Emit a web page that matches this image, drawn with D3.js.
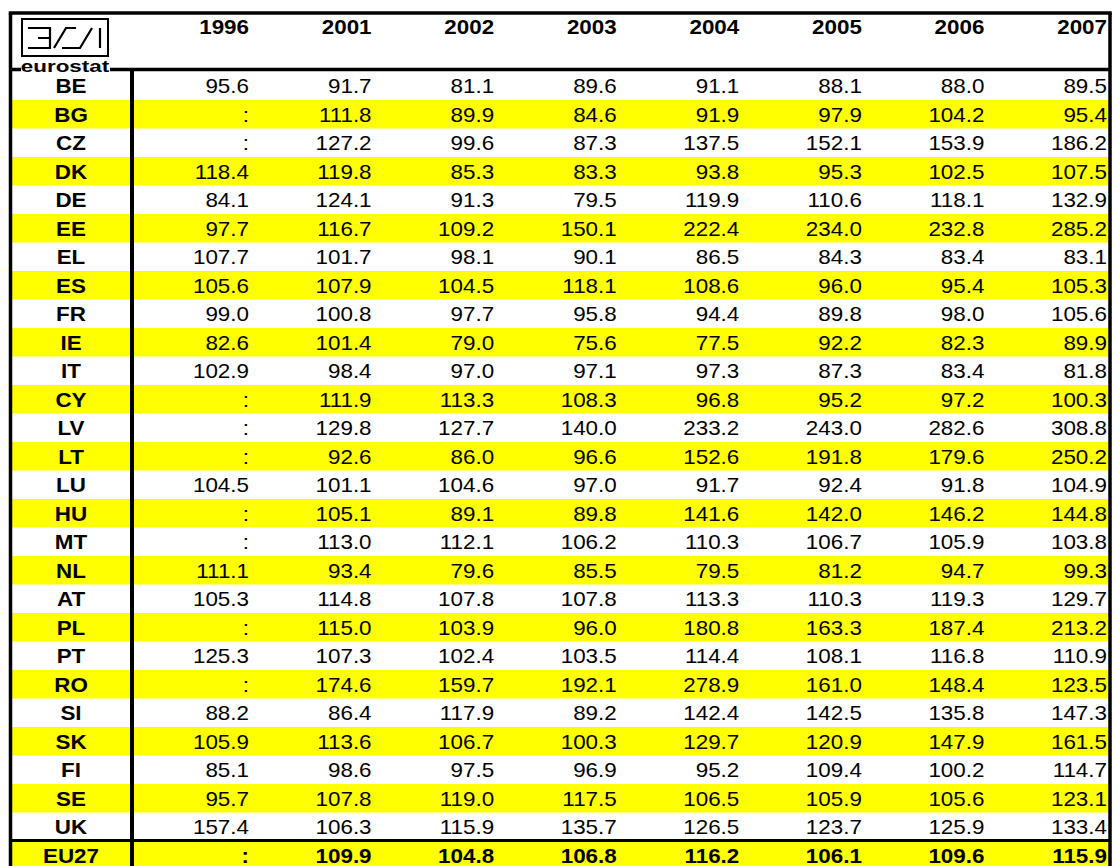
<!DOCTYPE html>
<html>
<head>
<meta charset="utf-8">
<script src="https://cdn.jsdelivr.net/npm/d3@7"></script>
<style>
  html, body { margin: 0; padding: 0; background: #fff; }
  svg { display: block; }
  text { font-family: "Liberation Sans", Arial, sans-serif; }
</style>
</head>
<body>
<svg id="chart" width="1115" height="866"></svg>
<script>
// ---- data ----
const years = ["1996", "2001", "2002", "2003", "2004", "2005", "2006", "2007"];
const countries = ["BE","BG","CZ","DK","DE","EE","EL","ES","FR","IE","IT","CY","LV","LT","LU","HU","MT","NL","AT","PL","PT","RO","SI","SK","FI","SE","UK","EU27"];
const v1996 = [95.6,null,null,118.4,84.1,97.7,107.7,105.6,99.0,82.6,102.9,null,null,null,104.5,null,null,111.1,105.3,null,125.3,null,88.2,105.9,85.1,95.7,157.4,null];
const v2001 = [91.7,111.8,127.2,119.8,124.1,116.7,101.7,107.9,100.8,101.4,98.4,111.9,129.8,92.6,101.1,105.1,113.0,93.4,114.8,115.0,107.3,174.6,86.4,113.6,98.6,107.8,106.3,109.9];
const v2002 = [81.1,89.9,99.6,85.3,91.3,109.2,98.1,104.5,97.7,79.0,97.0,113.3,127.7,86.0,104.6,89.1,112.1,79.6,107.8,103.9,102.4,159.7,117.9,106.7,97.5,119.0,115.9,104.8];
const v2003 = [89.6,84.6,87.3,83.3,79.5,150.1,90.1,118.1,95.8,75.6,97.1,108.3,140.0,96.6,97.0,89.8,106.2,85.5,107.8,96.0,103.5,192.1,89.2,100.3,96.9,117.5,135.7,106.8];
const v2004 = [91.1,91.9,137.5,93.8,119.9,222.4,86.5,108.6,94.4,77.5,97.3,96.8,233.2,152.6,91.7,141.6,110.3,79.5,113.3,180.8,114.4,278.9,142.4,129.7,95.2,106.5,126.5,116.2];
const v2005 = [88.1,97.9,152.1,95.3,110.6,234.0,84.3,96.0,89.8,92.2,87.3,95.2,243.0,191.8,92.4,142.0,106.7,81.2,110.3,163.3,108.1,161.0,142.5,120.9,109.4,105.9,123.7,106.1];
const v2006 = [88.0,104.2,153.9,102.5,118.1,232.8,83.4,95.4,98.0,82.3,83.4,97.2,282.6,179.6,91.8,146.2,105.9,94.7,119.3,187.4,116.8,148.4,135.8,147.9,100.2,105.6,125.9,109.6];
const v2007 = [89.5,95.4,186.2,107.5,132.9,285.2,83.1,105.3,105.6,89.9,81.8,100.3,308.8,250.2,104.9,144.8,103.8,99.3,129.7,213.2,110.9,123.5,147.3,161.5,114.7,123.1,133.4,115.9];
const series = [v1996, v2001, v2002, v2003, v2004, v2005, v2006, v2007];

// ---- layout ----
(function () {
const svg = d3.select("#chart");
const leftX = 10.5, rightX = 1110, topY = 13, headLine = 69.5, sepX = 132;
const rowTop = 71.5, rowH = 28.5;
const STRETCH = 1.12;

const x = d3.scalePoint().domain(years).range([249, 1107]);
const y = d3.scaleBand().domain(countries).range([rowTop, rowTop + rowH * countries.length]).padding(0);

// yellow stripes
svg.append("g").selectAll("rect")
  .data(countries.filter((c, i) => i % 2 === 1))
  .join("rect")
  .attr("x", leftX).attr("width", rightX - leftX)
  .attr("y", d => y(d)).attr("height", y.bandwidth())
  .attr("fill", "#ffff00");

function stretchedText(g, tx, ty, str, opts) {
  return g.append("text")
    .attr("transform", `translate(${tx},${ty}) scale(${opts.sx || STRETCH},1)`)
    .attr("text-anchor", opts.anchor || "end")
    .attr("font-size", opts.size || 20)
    .attr("font-weight", opts.bold ? "bold" : "normal")
    .attr("fill", "#000")
    .text(str);
}

// header years
const head = svg.append("g");
years.forEach(yr => stretchedText(head, x(yr), 34, yr, {bold: true}));

// country labels
const lab = svg.append("g");
countries.forEach(c => stretchedText(lab, 71, y(c) + 21.5, c, {bold: true, anchor: "middle"}));

// values
const vals = svg.append("g");
years.forEach((yr, j) => {
  countries.forEach((c, i) => {
    const v = series[j][i];
    const s = v == null ? ":" : d3.format(".1f")(v);
    stretchedText(vals, x(yr), y(c) + 21.5, s, {bold: c === "EU27"});
  });
});

// grid lines
const lines = svg.append("g").attr("stroke", "#000").attr("fill", "none");
lines.append("line").attr("x1", leftX - 1.75).attr("x2", rightX + 1.75).attr("y1", topY).attr("y2", topY).attr("stroke-width", 3.5);
lines.append("line").attr("x1", leftX).attr("x2", leftX).attr("y1", topY).attr("y2", 866).attr("stroke-width", 3.5);
lines.append("line").attr("x1", rightX).attr("x2", rightX).attr("y1", topY).attr("y2", 866).attr("stroke-width", 3.5);
lines.append("line").attr("x1", leftX).attr("x2", rightX).attr("y1", headLine).attr("y2", headLine).attr("stroke-width", 3.5);
lines.append("line").attr("x1", sepX).attr("x2", sepX).attr("y1", headLine).attr("y2", 866).attr("stroke-width", 4);
const euY = y("EU27") - 0.5;
lines.append("line").attr("x1", leftX).attr("x2", rightX).attr("y1", euY).attr("y2", euY).attr("stroke-width", 3);

// eurostat logo
const logo = svg.append("g");
logo.append("rect").attr("x", 21).attr("y", 61).attr("width", 89).attr("height", 11).attr("fill", "#fff");
logo.append("rect").attr("x", 22).attr("y", 19).attr("width", 86).attr("height", 37)
  .attr("fill", "none").attr("stroke", "#000").attr("stroke-width", 2);
logo.append("path")
  .attr("d", "M28,28 H50 V48 H28 M38,38 H50 M54,48 L66,28 H76 M62,48 H80 L92,28 M100,28 V48")
  .attr("fill", "none").attr("stroke", "#000").attr("stroke-width", 2.2);
stretchedText(logo, 65, 72, "eurostat", {bold: true, anchor: "middle", size: 16, sx: 1.4});
})();
</script>
</body>
</html>
